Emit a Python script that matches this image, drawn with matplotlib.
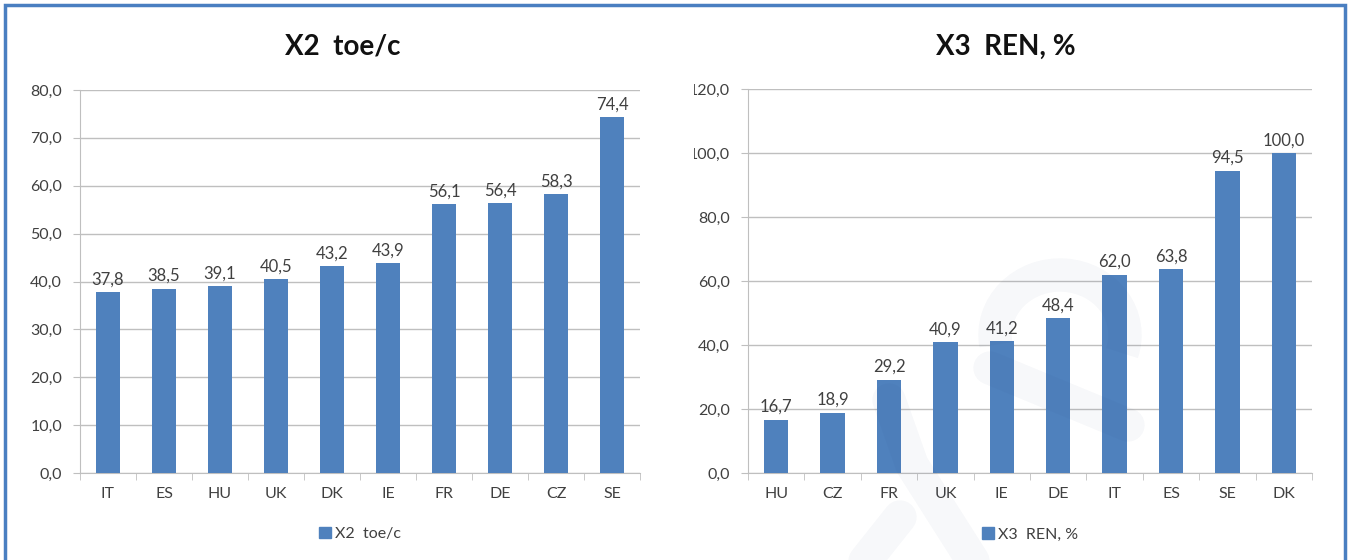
import numpy as np
import matplotlib.pyplot as plt
from matplotlib.patches import Rectangle, Patch, Arc

plt.rcParams['font.family'] = ['Lato', 'DejaVu Sans']

# energy per capita
x2_countries = ['IT', 'ES', 'HU', 'UK', 'DK', 'IE', 'FR', 'DE', 'CZ', 'SE']
x2_values = [37.8, 38.5, 39.1, 40.5, 43.2, 43.9, 56.1, 56.4, 58.3, 74.4]

# renewables share
x3_countries = ['HU', 'CZ', 'FR', 'UK', 'IE', 'DE', 'IT', 'ES', 'SE', 'DK']
x3_values = [16.7, 18.9, 29.2, 40.9, 41.2, 48.4, 62.0, 63.8, 94.5, 100.0]

bar_color = '#4f81bd'
grid_color = '#bfbfbf'
text_color = '#404040'

W, H = 1349, 560
fig = plt.figure(figsize=(W / 100, H / 100), dpi=100)


def px(x0, y0, x1, y1):
    # pixel box (top-left origin) -> figure fraction rect
    return [x0 / W, 1 - y1 / H, (x1 - x0) / W, (y1 - y0) / H]


def fxy(x, y):
    return (x / W, 1 - y / H)


def comma(v):
    return ('%.1f' % v).replace('.', ',')


def bar_panel(ax, cats, vals, ymax, step, title, label, title_x):
    x = np.arange(len(cats))
    ax.bar(x, vals, width=0.43, color=bar_color, zorder=3)
    for xi, v in zip(x, vals):
        ax.text(xi, v + ymax * 0.012, comma(v), ha='center', va='bottom',
                fontsize=12, color=text_color, zorder=4)
    ax.set_xlim(-0.5, len(cats) - 0.5)
    ax.set_ylim(0, ymax)
    yt = np.arange(0, ymax + step / 2, step)
    ax.set_yticks(yt)
    ax.set_yticklabels([comma(v) for v in yt])
    ax.set_xticks(x)
    ax.set_xticklabels(cats)
    ax.set_xticks(np.arange(-0.5, len(cats)), minor=True)
    ax.tick_params(axis='x', which='major', length=0, pad=10,
                   labelsize=11.5, labelcolor=text_color)
    ax.tick_params(axis='x', which='minor', length=5, color=grid_color)
    ax.tick_params(axis='y', length=5, color=grid_color, pad=8,
                   labelsize=11.5, labelcolor=text_color)
    ax.grid(axis='y', color=grid_color, linewidth=1, zorder=0)
    for s in ['top', 'right']:
        ax.spines[s].set_visible(False)
    for s in ['left', 'bottom']:
        ax.spines[s].set_color(grid_color)
    fig.text(title_x / W, 1 - 47 / H, title, ha='center', va='center',
             fontsize=20, fontweight='bold', color='#111111')
    ax.legend(handles=[Patch(color=bar_color, label=label)],
              loc='center', bbox_to_anchor=(0.5, -0.16), frameon=False,
              handlelength=0.7, handleheight=0.7, handletextpad=0.25,
              prop={'size': 11.5}, labelcolor=text_color)


ax1 = fig.add_axes(px(80, 90, 640, 473))
bar_panel(ax1, x2_countries, x2_values, 80, 10, 'X2  toe/c', 'X2  toe/c', 343)

ax2 = fig.add_axes(px(748, 89, 1312, 473))
bar_panel(ax2, x3_countries, x3_values, 120, 20, 'X3  REN, %', 'X3  REN, %', 1006)

# faint logo watermark over the right panel
wm_color, wm_alpha, wm_lw = '#1f3f7f', 0.035, 24
strokes = [[(850, 580), (900, 517)],
           [(889, 400), (912, 465), (985, 580)],
           [(990, 368), (1128, 425)]]
for pts in strokes:
    xs, ys = zip(*[fxy(*p) for p in pts])
    fig.add_artist(plt.Line2D(xs, ys, color=wm_color, alpha=wm_alpha,
                              linewidth=wm_lw, solid_capstyle='round',
                              solid_joinstyle='round',
                              transform=fig.transFigure, zorder=10))
fig.add_artist(Arc(fxy(1060, 335), 130 / W, 120 / H, theta1=-35, theta2=200,
                   transform=fig.transFigure, color=wm_color, alpha=wm_alpha,
                   linewidth=wm_lw, zorder=10))

# strip covering the edge of the right panel's axis labels
fig.patches.append(Rectangle((655 / W, 0), (694 - 655) / W, 1,
                             transform=fig.transFigure, facecolor='white',
                             edgecolor='none', zorder=5))

# outer frame
fig.patches.append(Rectangle((5 / W, -0.05), (1340 / W), 1.05 - 5 / H,
                             transform=fig.transFigure, facecolor='none',
                             edgecolor='#4a7fc1', linewidth=2.5, zorder=6))

fig.savefig('out.png', dpi=100)
